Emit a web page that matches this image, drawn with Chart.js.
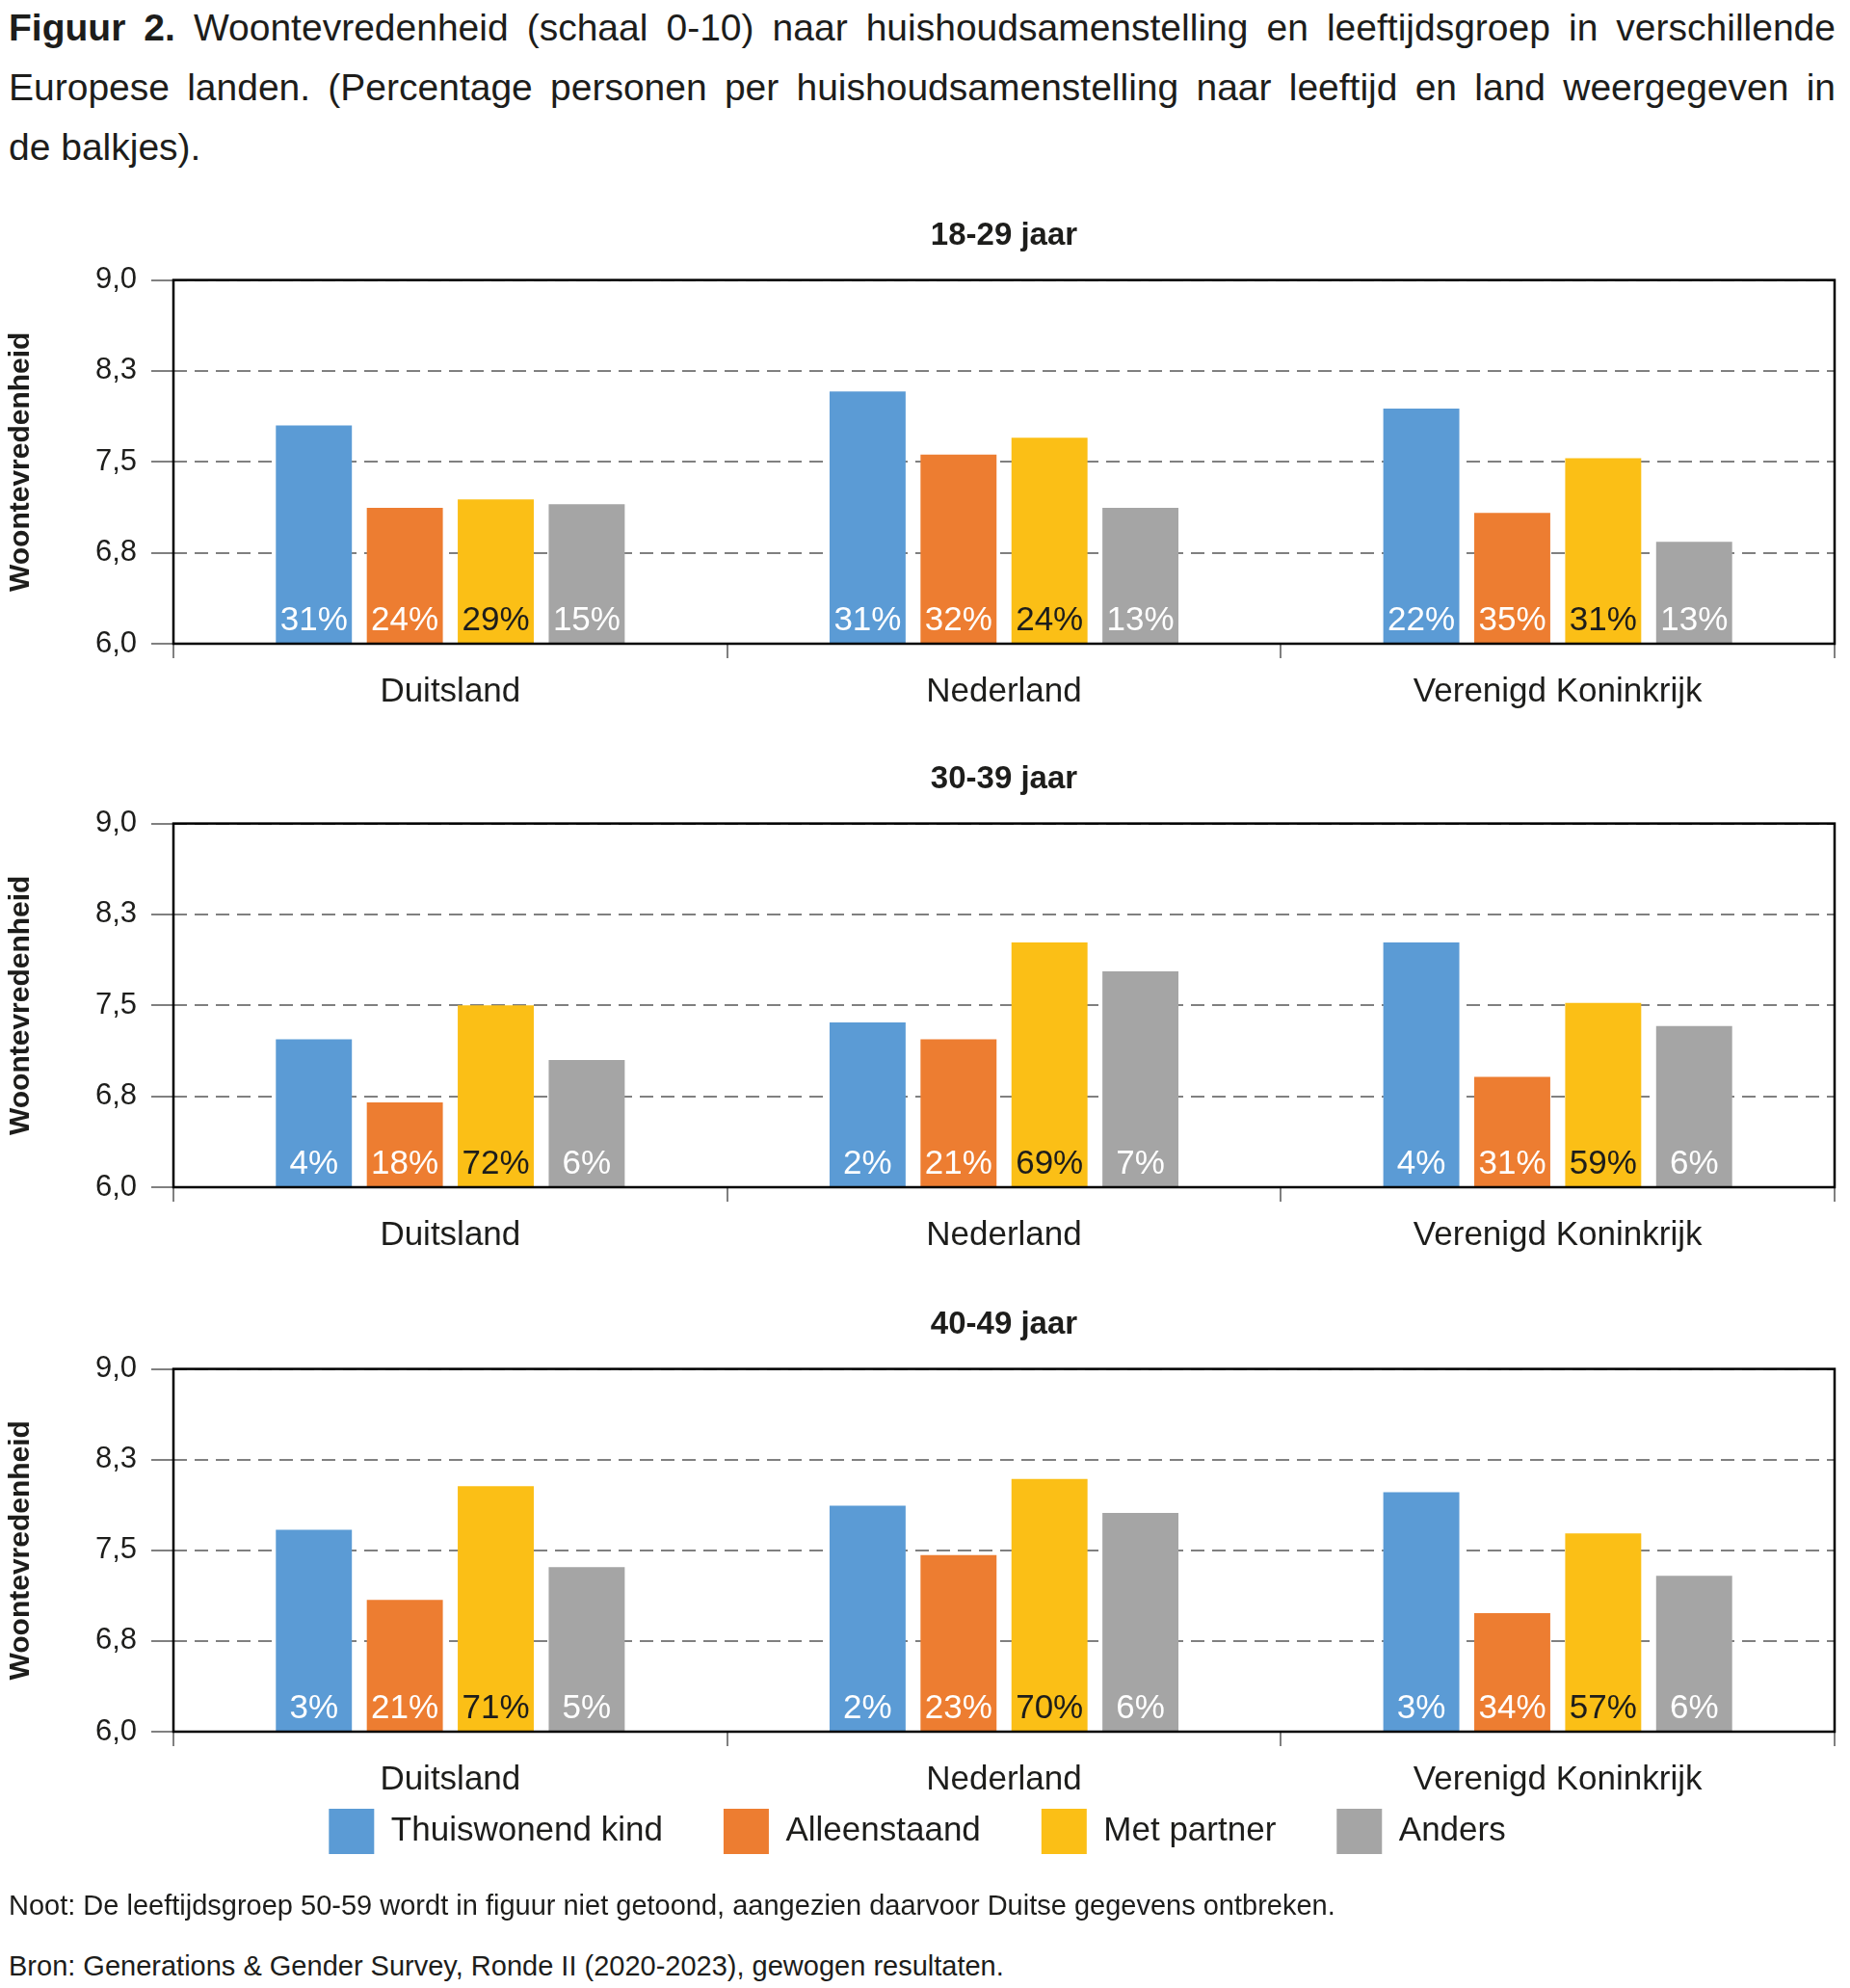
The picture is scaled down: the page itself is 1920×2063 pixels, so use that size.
<!DOCTYPE html>
<html lang="nl">
<head>
<meta charset="utf-8">
<title>Woontevredenheid naar huishoudsamenstelling en leeftijdsgroep</title>
<script src="https://cdn.jsdelivr.net/npm/chart.js@4.4.1/dist/chart.umd.min.js"></script>
<style>
  html, body { margin: 0; padding: 0; background: #fff; }
  body {
    width: 1920px; height: 2063px; position: relative; overflow: hidden;
    font-family: 'Liberation Sans', Arial, sans-serif; color: #1d1d1b;
  }
  #caption { position: absolute; left: 9px; top: -2px; width: 1896px; font-size: 39px; line-height: 62px; }
  #caption .j { text-align: justify; text-align-last: justify; }
  .panel { position: absolute; left: 0; }
  .note { position: absolute; left: 9px; font-size: 29px; line-height: 40px; white-space: nowrap; }
</style>
</head>
<body>
<div id="caption">
  <div class="j"><b>Figuur 2.</b> Woontevredenheid (schaal 0-10) naar huishoudsamenstelling en leeftijdsgroep in verschillende</div>
  <div class="j">Europese landen. (Percentage personen per huishoudsamenstelling naar leeftijd en land weergegeven in</div>
  <div>de balkjes).</div>
</div>

<div class="panel" style="top:200px"><canvas id="chart1" width="1920" height="558"></canvas></div>
<div class="panel" style="top:764px"><canvas id="chart2" width="1920" height="558"></canvas></div>
<div class="panel" style="top:1330px"><canvas id="chart3" width="1920" height="677"></canvas></div>

<div class="note" style="top:1957px">Noot: De leeftijdsgroep 50-59 wordt in figuur niet getoond, aangezien daarvoor Duitse gegevens ontbreken.</div>
<div class="note" style="top:2020px">Bron: Generations &amp; Gender Survey, Ronde II (2020-2023), gewogen resultaten.</div>

<script>
const countries = ['Duitsland', 'Nederland', 'Verenigd Koninkrijk'];
const householdTypes = ['Thuiswonend kind', 'Alleenstaand', 'Met partner', 'Anders'];
const ageGroups = ['18-29 jaar', '30-39 jaar', '40-49 jaar'];

// woontevredenheid, één rij per huishoudtype, kolommen = landen
const score18_29 = [
  [7.80, 8.08, 7.94],
  [7.12, 7.56, 7.08],
  [7.19, 7.70, 7.53],
  [7.15, 7.12, 6.84]
];
const score30_39 = [
  [7.22, 7.36, 8.02],
  [6.70, 7.22, 6.91],
  [7.50, 8.02, 7.52],
  [7.05, 7.78, 7.33]
];
const score40_49 = [
  [7.67, 7.87, 7.98],
  [7.09, 7.46, 6.98],
  [8.03, 8.09, 7.64],
  [7.36, 7.81, 7.29]
];

// percentage personen per huishoudtype (tekst in de balkjes)
const share18_29 = [[31, 31, 22], [24, 32, 35], [29, 24, 31], [15, 13, 13]];
const share30_39 = [[4, 2, 4], [18, 21, 31], [72, 69, 59], [6, 7, 6]];
const share40_49 = [[3, 2, 3], [21, 23, 34], [71, 70, 57], [5, 6, 6]];

const yTickValues = [6.0, 6.75, 7.5, 8.25, 9.0];
const yTickLabels = ['6,0', '6,8', '7,5', '8,3', '9,0'];

const barColors = ['#5b9bd5', '#ed7d31', '#fbbf16', '#a5a5a5'];
const shareTextColors = ['#ffffff', '#ffffff', '#1d1d1b', '#ffffff'];

const fontFamily = "'Liberation Sans', Arial, sans-serif";
const textColor = '#1d1d1b';
const gridColor = '#808080';

Chart.defaults.font.family = fontFamily;
Chart.defaults.color = textColor;

// legenda dichter onder de landnamen zetten
const legendLift = {
  id: 'legendLift',
  afterLayout(chart) {
    const lg = chart.legend;
    if (lg && lg.options.display) {
      lg.top -= 73;
      lg.bottom -= 73;
    }
  }
};

function createPanel(id, title, scores, shares, withLegend) {
  const ctx = document.getElementById(id);

  // zwarte rand rond het plotvlak + percentages onderin de balkjes
  const overlay = {
    id: 'overlay',
    afterDraw(chart) {
      const c = chart.ctx;
      const a = chart.chartArea;
      const yScale = chart.scales.y;
      const baseY = yScale.getPixelForValue(yScale.min);
      c.save();
      c.font = '35px ' + fontFamily;
      c.textAlign = 'center';
      c.textBaseline = 'alphabetic';
      shares.forEach((row, i) => {
        c.fillStyle = shareTextColors[i];
        const bars = chart.getDatasetMeta(i).data;
        row.forEach((v, j) => {
          const bar = bars[j];
          if (!bar) return;
          c.fillText(v + '%', bar.x, baseY - 14);
        });
      });
      c.strokeStyle = '#000';
      c.lineWidth = 2.5;
      c.strokeRect(a.left, a.top, a.right - a.left, a.bottom - a.top);
      c.restore();
    }
  };

  return new Chart(ctx, {
    type: 'bar',
    data: {
      labels: countries,
      datasets: householdTypes.map((name, i) => ({
        label: name,
        data: scores[i],
        backgroundColor: barColors[i],
        borderWidth: 0,
        categoryPercentage: 0.657,
        barPercentage: 0.836
      }))
    },
    options: {
      responsive: false,
      animation: false,
      layout: { padding: { left: 0, right: 16, top: 0, bottom: 0 } },
      plugins: {
        title: {
          display: true,
          text: title,
          fullSize: false,
          color: textColor,
          font: { size: 33, weight: 'bold' },
          padding: { top: 25, bottom: 26 }
        },
        legend: {
          display: withLegend,
          position: 'bottom',
          labels: {
            boxWidth: 47,
            boxHeight: 47,
            padding: 63,
            color: textColor,
            font: { size: 35 }
          }
        },
        tooltip: { enabled: false }
      },
      scales: {
        x: {
          grid: {
            drawOnChartArea: false,
            drawTicks: true,
            tickLength: 15,
            color: gridColor,
            lineWidth: 2
          },
          border: { display: false },
          ticks: { font: { size: 35 }, padding: 14, color: textColor },
          afterFit(scale) { scale.height = 90; }
        },
        y: {
          min: 6,
          max: 9,
          afterBuildTicks(scale) {
            scale.ticks = yTickValues.map(v => ({ value: v }));
          },
          afterFit(scale) { scale.width = 180; },
          grid: {
            color: gridColor,
            lineWidth: 2,
            tickLength: 23,
            tickColor: gridColor,
            tickWidth: 2,
            tickBorderDash: []
          },
          border: { display: false, dash: [14, 8] },
          ticks: {
            font: { size: 31 },
            padding: 15,
            color: textColor,
            callback: (value, index) => yTickLabels[index]
          },
          title: {
            display: true,
            text: 'Woontevredenheid',
            color: textColor,
            font: { size: 30, weight: 'bold' },
            padding: { top: 4, bottom: 0 }
          }
        }
      }
    },
    plugins: [overlay, legendLift]
  });
}

createPanel('chart1', ageGroups[0], score18_29, share18_29, false);
createPanel('chart2', ageGroups[1], score30_39, share30_39, false);
createPanel('chart3', ageGroups[2], score40_49, share40_49, true);
</script>
</body>
</html>
